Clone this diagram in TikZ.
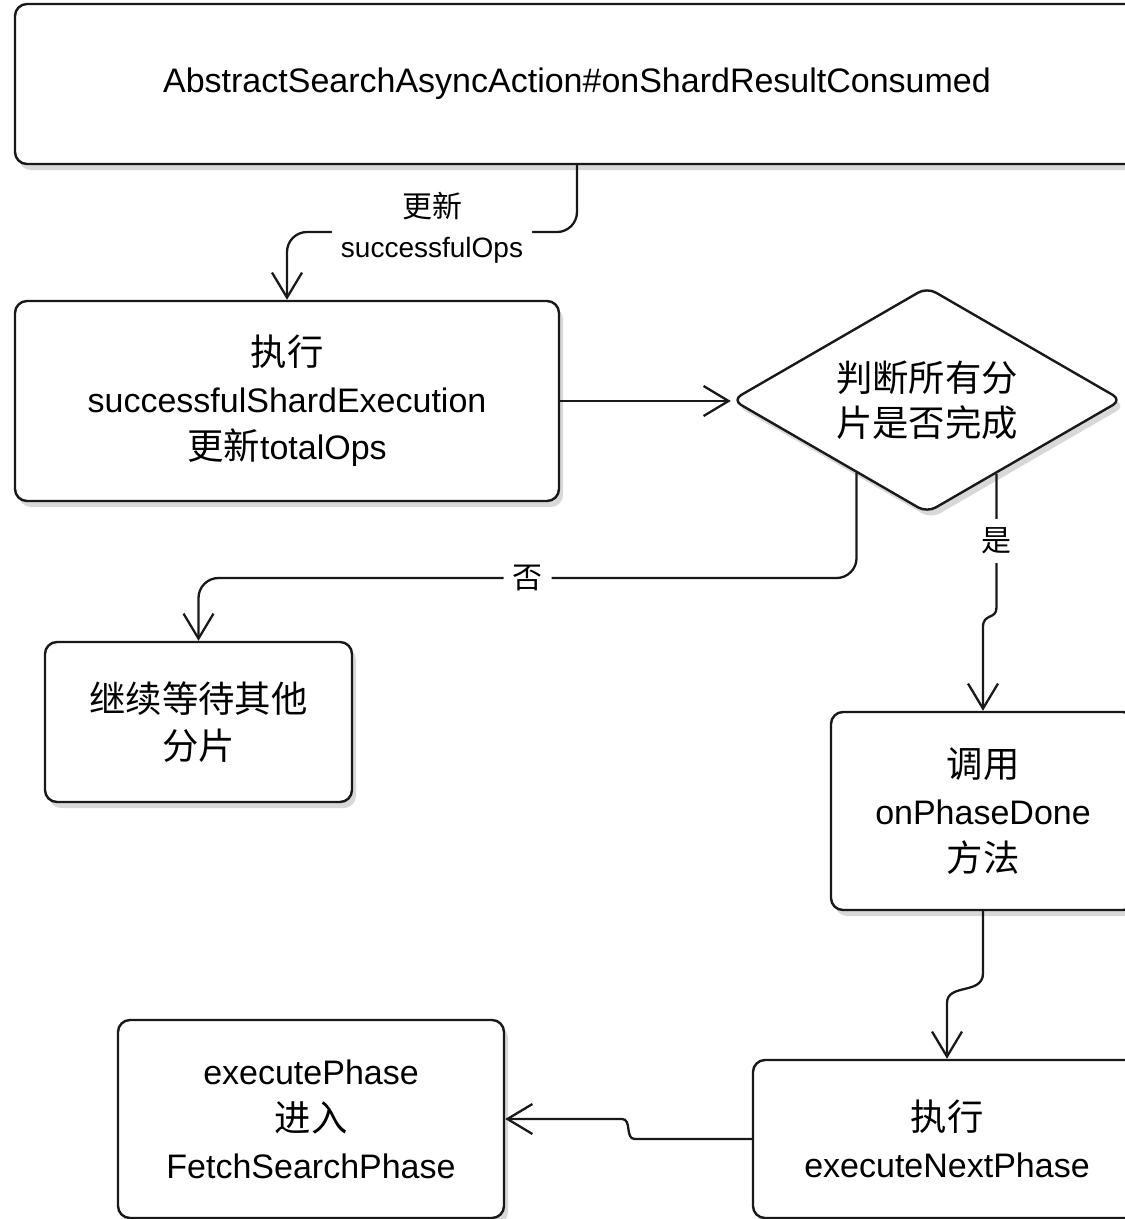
\documentclass[tikz,border=0pt]{standalone}
\usepackage{fontspec}
\setmainfont{Liberation Sans}
\newfontfamily\cjk[Scale=1.07]{Noto Sans CJK SC}
\usetikzlibrary{arrows.meta,shapes.geometric,shadows,calc}

\begin{document}
\begin{tikzpicture}[x=1pt,y=-1pt,
  ink/.style={draw=black!90, line width=2.4pt},
  softshadow/.style={drop shadow={shadow xshift=4pt, shadow yshift=-6pt, fill=black!25, opacity=0.6}},
  box/.style={ink, rectangle, rounded corners=12pt, fill=white, align=center,
    inner sep=0pt, font=\fontsize{34}{47}\selectfont, softshadow},
  decision/.style={ink, diamond, aspect=1.73, rounded corners=10pt, fill=white,
    inner sep=0pt, minimum width=390pt, minimum height=226pt, align=center,
    font=\fontsize{34}{45}\selectfont, softshadow},
  flow/.style={draw=black!90, line width=2.3pt,
    -{Straight Barb[length=25pt, width=30pt]}},
  lbl/.style={fill=white, inner sep=9pt, align=center, font=\fontsize{28}{40}\selectfont}
]
% page frame
\useasboundingbox (0,0) rectangle (1125,1219);
\fill[white] (0,0) rectangle (1125,1219);
\clip (0,0) rectangle (1125,1219);

% steps
\node[box, minimum width=1124pt, minimum height=160pt] (top) at (577,84)
  {AbstractSearchAsyncAction\#onShardResultConsumed};
\node[box, minimum width=544pt, minimum height=200pt] (exec) at (287,401)
  {{\cjk 执行}\\successfulShardExecution\\{\cjk 更新}totalOps};
\node[decision] (dia) at (927,400) {{\cjk 判断所有分}\\{\cjk 片是否完成}};
\node[box, minimum width=307pt, minimum height=160pt] (wait) at (198.5,722)
  {{\cjk 继续等待其他}\\{\cjk 分片}};
\node[box, minimum width=304pt, minimum height=198pt] (done) at (983,811)
  {{\cjk 调用}\\onPhaseDone\\{\cjk 方法}};
\node[box, minimum width=388pt, minimum height=158pt] (next) at (947,1139)
  {{\cjk 执行}\\executeNextPhase};
\node[box, minimum width=386pt, minimum height=198pt] (fetch) at (311,1119)
  {executePhase\\{\cjk 进入}\\FetchSearchPhase};

% connectors
\draw[flow, rounded corners=20pt] (top.south) |-
  node[lbl, pos=0.75, yshift=4pt] (l1) {{\cjk 更新}\\successfulOps}
  (exec.north |- 0,232) -- (exec.north);
\draw[flow] (exec.east) -- (exec.east -| dia.west);
\draw[flow, rounded corners=20pt] ($(dia.west)!0.641!(dia.south)$) |-
  node[lbl, pos=0.75] (l2) {\cjk 否}
  (wait.north |- 0,578) -- (wait.north);
\draw[flow] ($(dia.east)!0.646!(dia.south)$) -- node[lbl] (l3) {\cjk 是} ++(0,134)
  .. controls +(0,12) and +(0,-14) .. (done.north |- 0,627) -- (done.north);
\draw[flow] (done.south) -- ++(0,62)
  .. controls +(0,22) and +(0,-20) .. (next.north |- 0,1003) -- (next.north);
\draw[flow] (next.west) -- ++(-117,0)
  .. controls +(-10,0) and +(10,0) .. (fetch.east -| 622,0) -- (fetch.east);
\end{tikzpicture}
\end{document}
